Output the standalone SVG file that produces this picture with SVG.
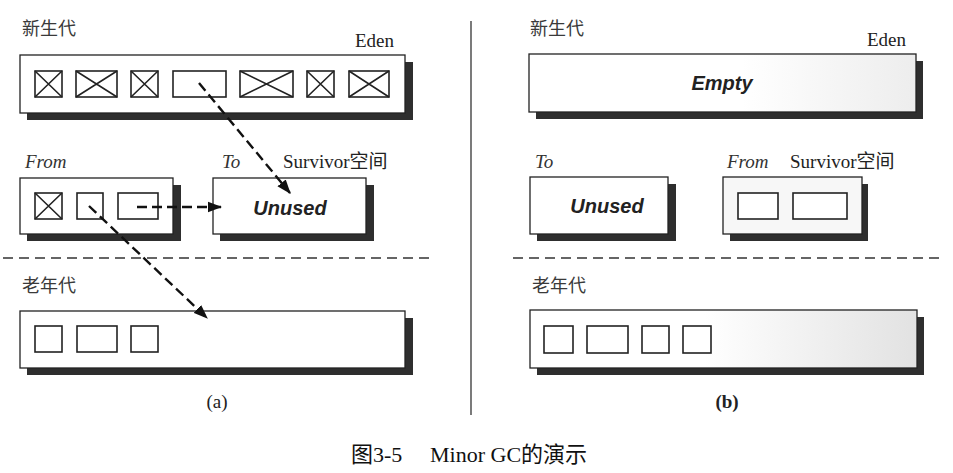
<svg xmlns="http://www.w3.org/2000/svg" width="953" height="473" viewBox="0 0 953 473">
<defs>
<style>
.shadow{fill:#2e2e2e}
.box{fill:#fff;stroke:#222;stroke-width:1.3}
.cell{fill:#fff;stroke:#222;stroke-width:1.6}
.x{stroke:#222;stroke-width:1.6}
.cn{font-family:"Noto Sans CJK SC",sans-serif;font-size:18px;fill:#3a3a3a}
.serif{font-family:"Liberation Serif","Noto Sans CJK SC",serif;font-size:19px;fill:#222}
.it{font-family:"Liberation Serif",serif;font-style:italic;font-size:19px;fill:#333}
.bi{font-family:"Liberation Sans",Arial,sans-serif;font-weight:bold;font-style:italic;font-size:20px;fill:#222;text-anchor:middle}
.sep{stroke:#333;stroke-width:1.5;stroke-dasharray:10 6;fill:none}
.conn{stroke:#111;stroke-width:2.4;stroke-dasharray:10 5;fill:none;marker-end:url(#ah)}
</style>
<marker id="ah" viewBox="0 0 12 10" refX="11" refY="5" markerWidth="6" markerHeight="5" orient="auto" markerUnits="strokeWidth">
<path d="M0,0.5 L12,5 L0,9.5 z" fill="#111"/>
</marker>
<linearGradient id="gr" x1="0" y1="0" x2="1" y2="0">
<stop offset="0.45" stop-color="#fff"/>
<stop offset="1" stop-color="#e2e2e2"/>
</linearGradient>
<linearGradient id="gr2" x1="0" y1="0" x2="1" y2="0">
<stop offset="0.55" stop-color="#fff"/>
<stop offset="1" stop-color="#ededed"/>
</linearGradient>
</defs>

<!-- Panel (a) -->
<g id="a-young-label"><text class="cn" x="22" y="35">新生代</text></g>
<g id="a-eden">
<rect class="shadow" x="27" y="62" width="386" height="58"/>
<rect class="box" x="20" y="55" width="385" height="58"/>
<text class="serif" x="355" y="47">Eden</text>
<rect class="cell" x="35" y="71" width="27" height="26"/><path class="x" d="M35,71L62,97M62,71L35,97"/>
<rect class="cell" x="76" y="71" width="41" height="26"/><path class="x" d="M76,71L117,97M117,71L76,97"/>
<rect class="cell" x="131" y="71" width="27" height="26"/><path class="x" d="M131,71L158,97M158,71L131,97"/>
<rect class="cell" x="173" y="71" width="53" height="26"/>
<rect class="cell" x="240" y="71" width="53" height="26"/><path class="x" d="M240,71L293,97M293,71L240,97"/>
<rect class="cell" x="307" y="71" width="27" height="26"/><path class="x" d="M307,71L334,97M334,71L307,97"/>
<rect class="cell" x="349" y="71" width="40" height="26"/><path class="x" d="M349,71L389,97M389,71L349,97"/>
</g>
<g id="a-from">
<text class="it" x="25" y="168">From</text>
<rect class="shadow" x="27" y="185" width="154" height="56"/>
<rect class="box" x="20" y="178" width="153" height="56"/>
<rect class="cell" x="35" y="193" width="27" height="26"/><path class="x" d="M35,193L62,219M62,193L35,219"/>
<rect class="cell" x="77" y="193" width="26" height="26"/>
<rect class="cell" x="118" y="193" width="40" height="26"/>
</g>
<g id="a-to">
<text class="it" x="222" y="168">To</text>
<text class="serif" x="283" y="168">Survivor空间</text>
<rect class="shadow" x="220" y="185" width="154" height="56"/>
<rect class="box" x="213" y="178" width="153" height="56"/>
<text class="bi" x="290" y="215">Unused</text>
</g>
<g id="a-old">
<text class="cn" x="22" y="292">老年代</text>
<rect class="shadow" x="27" y="318" width="386" height="57"/>
<rect class="box" x="20" y="311" width="385" height="57"/>
<rect class="cell" x="35" y="326" width="27" height="26"/>
<rect class="cell" x="77" y="326" width="40" height="26"/>
<rect class="cell" x="131" y="326" width="27" height="26"/>
</g>
<text class="serif" x="217" y="408" text-anchor="middle">(a)</text>

<!-- Panel (b) -->
<g id="b-young-label"><text class="cn" x="530" y="35">新生代</text></g>
<g id="b-eden">
<rect class="shadow" x="536" y="61" width="387" height="58"/>
<rect x="529" y="54" width="387" height="58" fill="url(#gr2)" stroke="#222" stroke-width="1.3"/>
<text class="serif" x="867" y="46">Eden</text>
<text class="bi" x="722" y="90">Empty</text>
</g>
<g id="b-to">
<text class="it" x="535" y="168">To</text>
<rect class="shadow" x="537" y="184" width="139" height="57"/>
<rect class="box" x="530" y="177" width="138" height="57"/>
<text class="bi" x="607" y="213">Unused</text>
</g>
<g id="b-from">
<text class="it" x="727" y="168">From</text>
<text class="serif" x="790" y="168">Survivor空间</text>
<rect class="shadow" x="730" y="184" width="138" height="57"/>
<rect x="723" y="177" width="139" height="57" fill="#f7f7f7" stroke="#222" stroke-width="1.3"/>
<rect class="cell" x="738" y="193" width="40" height="26"/>
<rect class="cell" x="793" y="193" width="54" height="26"/>
</g>
<g id="b-old">
<text class="cn" x="532" y="292">老年代</text>
<rect class="shadow" x="537" y="317" width="387" height="58"/>
<rect x="530" y="310" width="387" height="58" fill="url(#gr)" stroke="#222" stroke-width="1.3"/>
<rect class="cell" x="544" y="326" width="29" height="27"/>
<rect class="cell" x="587" y="326" width="41" height="27"/>
<rect class="cell" x="642" y="326" width="27" height="27"/>
<rect class="cell" x="683" y="326" width="28" height="27"/>
</g>
<text x="727" y="408" text-anchor="middle" font-family="Liberation Serif,serif" font-weight="bold" font-size="19" fill="#222">(b)</text>

<!-- Separators -->
<g id="separators">
<line x1="471" y1="21" x2="471" y2="415" stroke="#333" stroke-width="1.3"/>
<line class="sep" x1="3" y1="258" x2="430" y2="258"/>
<line class="sep" x1="513" y1="258" x2="942" y2="258"/>
</g>

<!-- Connectors -->
<g id="connectors">
<line class="conn" x1="199" y1="83" x2="290" y2="193"/>
<line class="conn" x1="137" y1="207" x2="221" y2="207"/>
<line class="conn" x1="89" y1="206" x2="207" y2="318"/>
</g>

<text x="351" y="462" font-family="Liberation Serif,'Noto Sans CJK SC',serif" font-size="22" fill="#111">图3-5<tspan x="430">Minor GC的演示</tspan></text>
</svg>
